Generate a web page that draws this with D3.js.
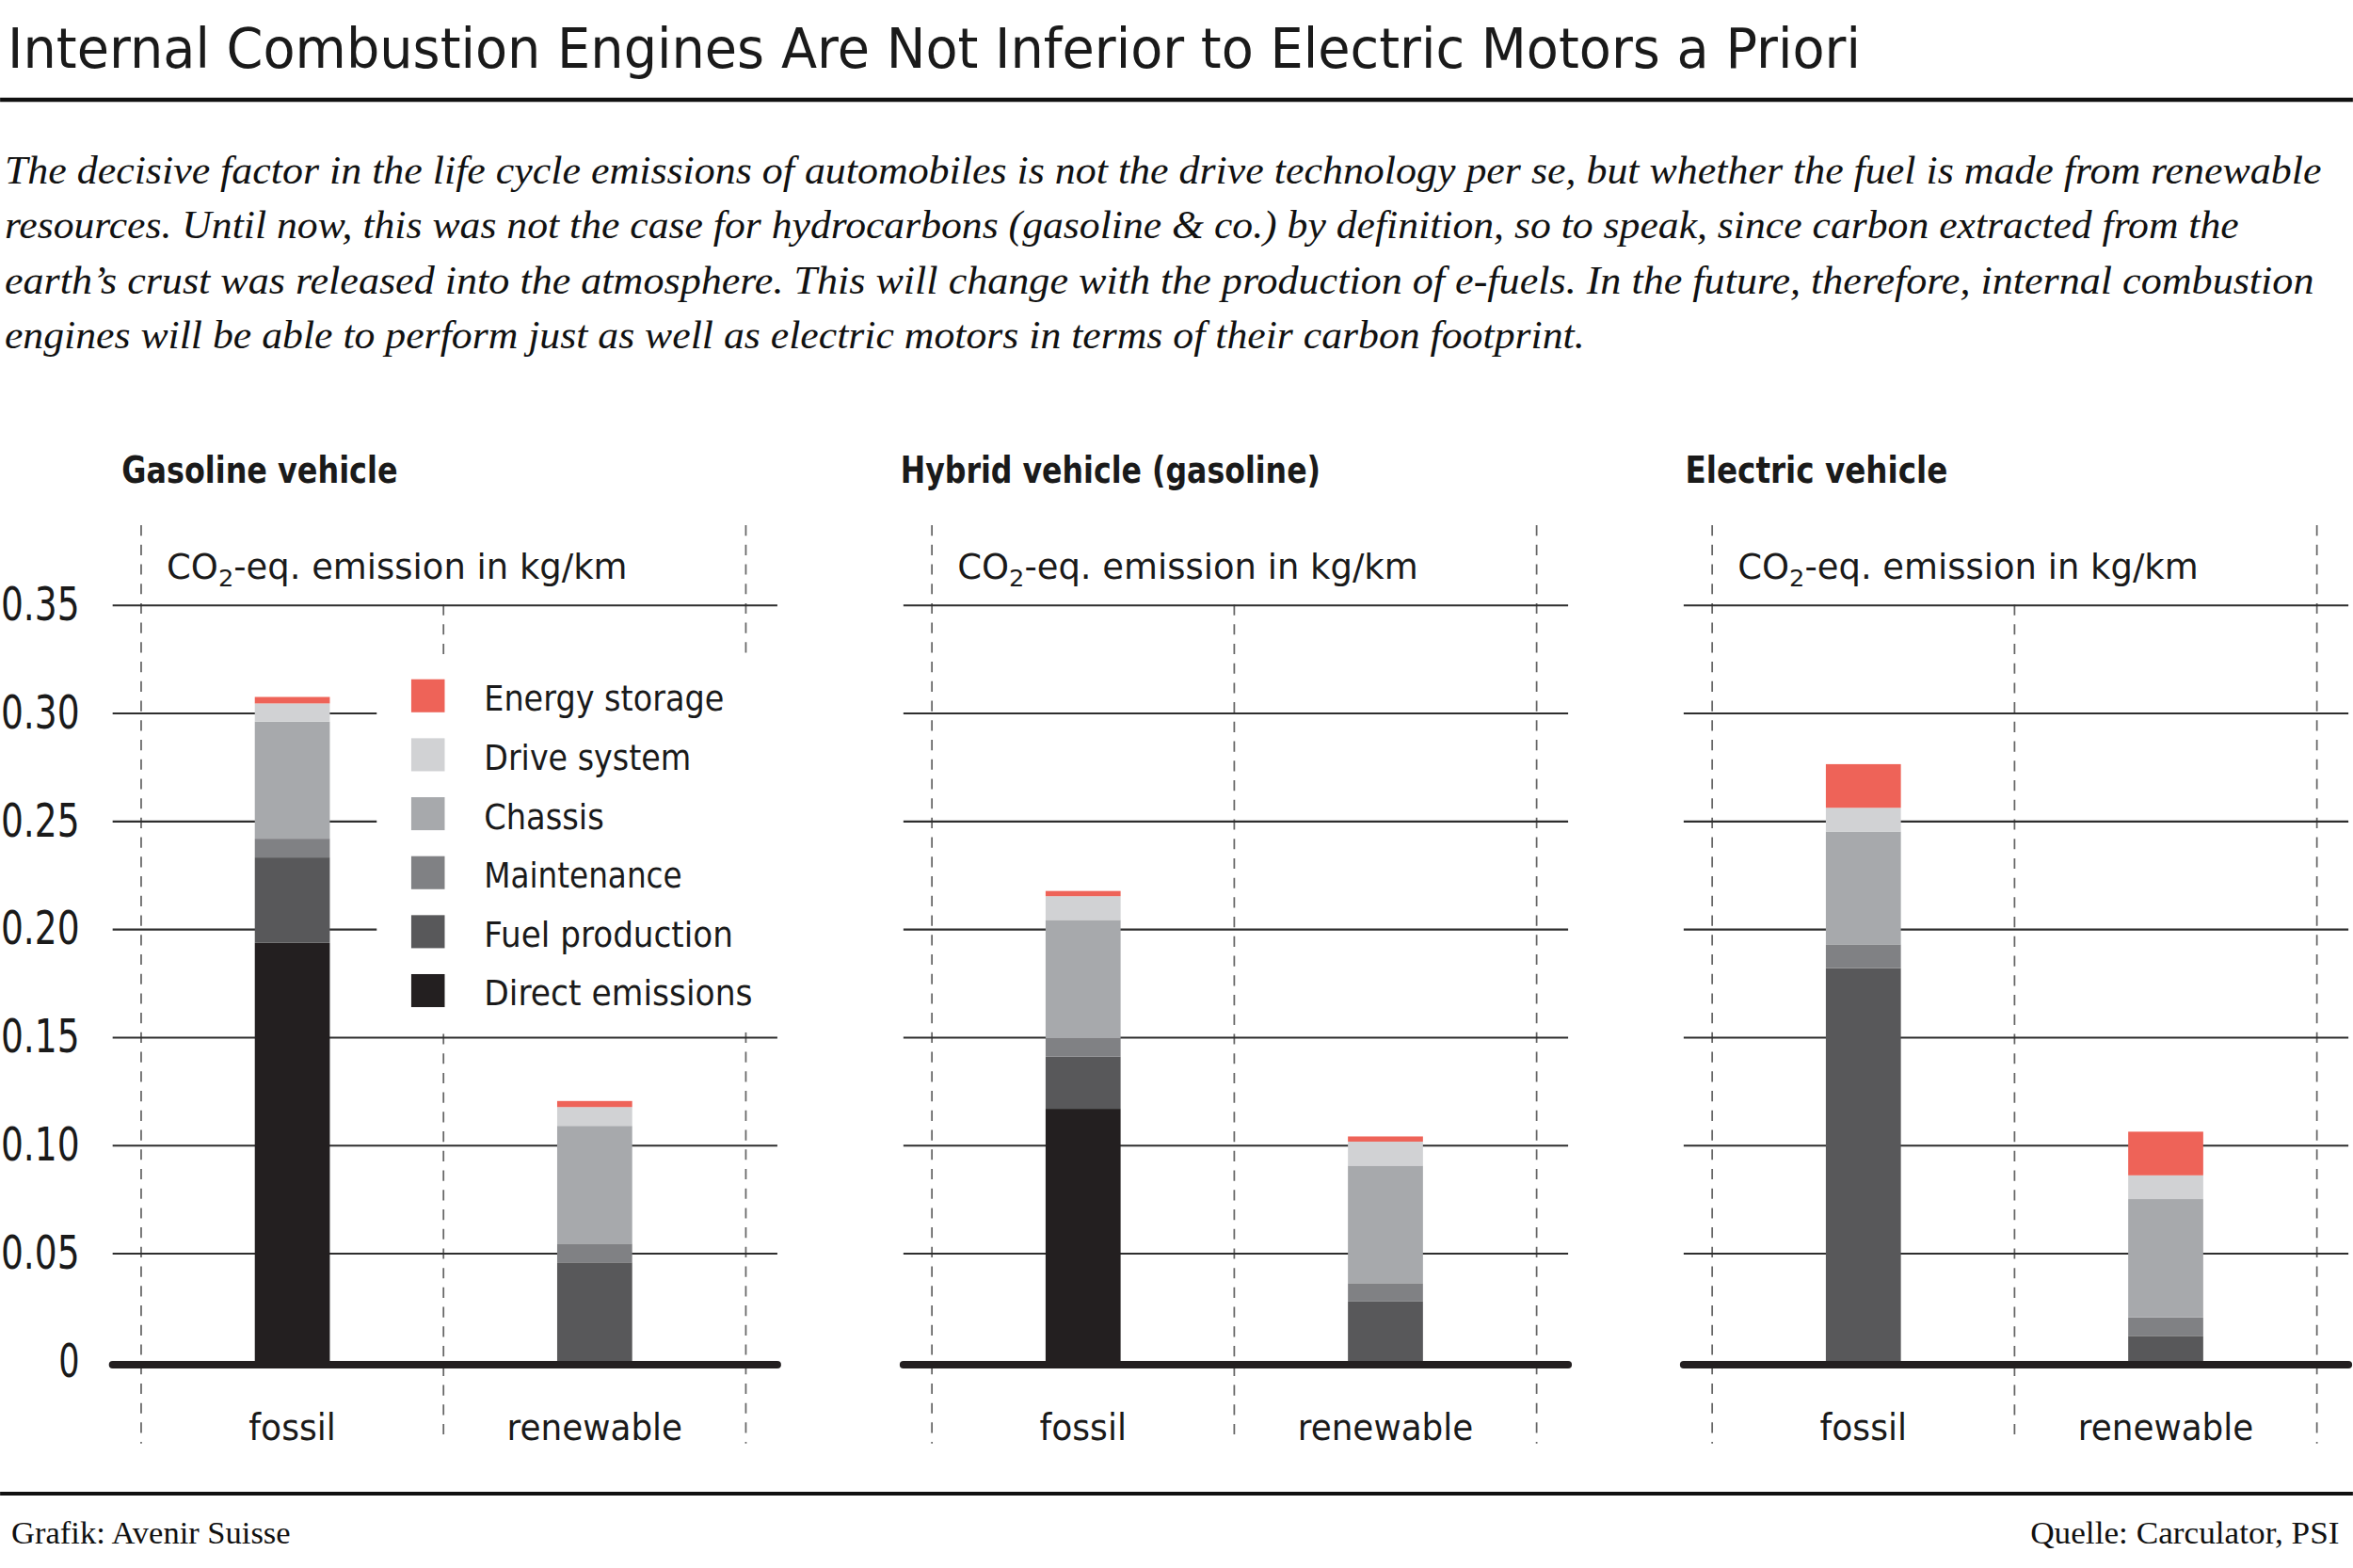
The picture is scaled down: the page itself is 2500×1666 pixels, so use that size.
<!DOCTYPE html>
<html>
<head>
<meta charset="utf-8">
<script src="https://cdn.jsdelivr.net/npm/d3@7"></script>
<style>
  html, body { margin: 0; padding: 0; background: #fff; }
</style>
</head>
<body>
<div id="chart"></div>
<script>
// ---- data ----
const vehicles = ["Gasoline vehicle", "Hybrid vehicle (gasoline)", "Electric vehicle"];
const fuels = ["fossil", "renewable"];
const components = ["Direct emissions", "Fuel production", "Maintenance", "Chassis", "Drive system", "Energy storage"];

// kg CO2-eq per km, one pair [fossil, renewable] per vehicle
const directEmissions = [[0.1935, 0], [0.1167, 0], [0, 0]];
const fuelProduction  = [[0.0395, 0.0456], [0.0241, 0.0275], [0.1818, 0.0116]];
const maintenance     = [[0.0087, 0.0087], [0.0086, 0.0085], [0.0110, 0.0086]];
const chassis         = [[0.0542, 0.0545], [0.0547, 0.0544], [0.0522, 0.0547]];
const driveSystem     = [[0.0084, 0.0087], [0.0110, 0.0111], [0.0110, 0.0110]];
const energyStorage   = [[0.0030, 0.0028], [0.0024, 0.0024], [0.0202, 0.0202]];

const yTicks = [0, 0.05, 0.10, 0.15, 0.20, 0.25, 0.30, 0.35];

const title = "Internal Combustion Engines Are Not Inferior to Electric Motors a Priori";
const introLines = [
  "The decisive factor in the life cycle emissions of automobiles is not the drive technology per se, but whether the fuel is made from renewable",
  "resources. Until now, this was not the case for hydrocarbons (gasoline & co.) by definition, so to speak, since carbon extracted from the",
  "earth\u2019s crust was released into the atmosphere. This will change with the production of e-fuels. In the future, therefore, internal combustion",
  "engines will be able to perform just as well as electric motors in terms of their carbon footprint."
];
const credit = "Grafik: Avenir Suisse";
const source = "Quelle: Carculator, PSI";

// ---- style / layout ----
const colors = ["#231f20", "#58585a", "#808184", "#a7a9ac", "#d1d2d4", "#ee6358"];
const sans = "'DejaVu Sans', sans-serif";
const serif = "'Liberation Serif', 'DejaVu Serif', serif";
const ink = "#1a1a1a";

const W = 1568, H = 1045;
const panelX = [75, 602, 1122];
const panelW = 443;
const titleDx = [6, -2, 1];
const titleW = [184, 280, 175];
const introW = [1544, 1489, 1539, 1053];
const legendW = [160, 138, 80, 132, 166, 179];   // top to bottom
const catW = { fossil: 58, renewable: 117 };

function fit(sel, w) {
  sel.attr("textLength", w).attr("lengthAdjust", "spacingAndGlyphs");
}

const svg = d3.select("#chart").append("svg")
  .attr("width", 2500)
  .attr("height", 1666)
  .attr("viewBox", `0 0 ${W} ${H}`);

svg.append("rect").attr("width", W).attr("height", H).attr("fill", "#fff");

// header
svg.append("text")
  .attr("x", 5).attr("y", 45.3)
  .attr("font-family", sans).attr("font-size", 36.5).attr("fill", ink)
  .text(title)
  .call(fit, 1235);

svg.append("line")
  .attr("x1", 0).attr("x2", W).attr("y1", 66.5).attr("y2", 66.5)
  .attr("stroke", "#111").attr("stroke-width", 2.8);

svg.append("g").selectAll("text")
  .data(introLines)
  .join("text")
  .attr("x", 3)
  .attr("y", (d, i) => 122.3 + i * 36.6)
  .attr("font-family", serif).attr("font-style", "italic")
  .attr("font-size", 27).attr("fill", "#111")
  .text(d => d)
  .each(function (d, i) { d3.select(this).call(fit, introW[i]); });

// scales
const y = d3.scaleLinear().domain([0, 0.35]).range([907, 403]);
const x = d3.scaleBand().domain(fuels).range([19, 422]);
const barW = 50;

const stack = d3.stack().keys(components);

vehicles.forEach((vehicle, vi) => {
  const g = svg.append("g").attr("transform", `translate(${panelX[vi]},0)`);

  // panel title
  g.append("text")
    .attr("x", titleDx[vi]).attr("y", 322)
    .attr("font-family", sans).attr("font-weight", "bold")
    .attr("font-size", 25).attr("fill", ink)
    .text(vehicle)
    .call(fit, titleW[vi]);

  // dashed separators
  const seps = [x.range()[0], x("renewable"), x.range()[1]];
  g.append("g").selectAll("line")
    .data(seps)
    .join("line")
    .attr("x1", d => d).attr("x2", d => d)
    .attr("y1", (d, i) => i === 1 ? y(0.35) : 350)
    .attr("y2", 962)
    .attr("stroke", "#666").attr("stroke-width", 1.1)
    .attr("stroke-dasharray", "7,6");

  // gridlines
  g.append("g")
    .call(d3.axisRight(y).tickValues(yTicks.slice(1)).tickSize(panelW).tickFormat(""))
    .call(a => a.select(".domain").remove())
    .selectAll("line")
    .attr("stroke", "#2e2e2e").attr("stroke-width", 1.3);

  // unit label
  const unit = g.append("text")
    .attr("x", 36).attr("y", 386)
    .attr("font-family", sans).attr("font-size", 23).attr("fill", ink);
  unit.append("tspan").text("CO");
  unit.append("tspan").attr("dy", 5).attr("font-size", 16).text("2");
  unit.append("tspan").attr("dy", -5).text("-eq. emission in kg/km");
  unit.call(fit, 307);

  // legend (first panel only)
  if (vi === 0) {
    svg.append("rect")
      .attr("x", 251).attr("y", 439).attr("width", 272).attr("height", 249)
      .attr("fill", "#fff");
    const items = components.slice().reverse();
    const lg = svg.append("g").selectAll("g")
      .data(items)
      .join("g")
      .attr("transform", (d, i) => `translate(274,${452.7 + i * 39.3})`);
    lg.append("rect")
      .attr("width", 22.3).attr("height", 22)
      .attr("fill", d => colors[components.indexOf(d)]);
    lg.append("text")
      .attr("x", 48.5).attr("y", 21)
      .attr("font-family", sans).attr("font-size", 23).attr("fill", ink)
      .text(d => d)
      .each(function (d, i) { d3.select(this).call(fit, legendW[i]); });
  }

  // stacked bars
  const rows = fuels.map((fuel, fi) => ({
    fuel,
    "Direct emissions": directEmissions[vi][fi],
    "Fuel production": fuelProduction[vi][fi],
    "Maintenance": maintenance[vi][fi],
    "Chassis": chassis[vi][fi],
    "Drive system": driveSystem[vi][fi],
    "Energy storage": energyStorage[vi][fi]
  }));

  g.append("g").selectAll("g")
    .data(stack(rows))
    .join("g")
    .attr("fill", (d, i) => colors[i])
    .selectAll("rect")
    .data(d => d)
    .join("rect")
    .attr("x", d => x(d.data.fuel) + x.bandwidth() / 2 - barW / 2)
    .attr("width", barW)
    .attr("y", d => y(d[1]))
    .attr("height", d => y(d[0]) - y(d[1]));

  // baseline
  g.append("line")
    .attr("x1", 0).attr("x2", panelW)
    .attr("y1", y(0) + 2.5).attr("y2", y(0) + 2.5)
    .attr("stroke", "#231f20").attr("stroke-width", 5)
    .attr("stroke-linecap", "round");

  // category labels
  g.append("g").selectAll("text")
    .data(fuels)
    .join("text")
    .attr("x", d => x(d) + x.bandwidth() / 2)
    .attr("y", 960)
    .attr("text-anchor", "middle")
    .attr("font-family", sans).attr("font-size", 25).attr("fill", ink)
    .text(d => d)
    .each(function (d) { d3.select(this).call(fit, catW[d]); });
});

// y axis labels (left panel)
svg.append("g")
  .attr("transform", "translate(53,0)")
  .call(d3.axisLeft(y).tickValues(yTicks).tickSize(0).tickPadding(0)
    .tickFormat(d => d === 0 ? "0" : d3.format(".2f")(d)))
  .call(a => a.select(".domain").remove())
  .selectAll("text")
  .attr("font-family", sans).attr("font-size", 31).attr("fill", ink)
  .each(function (d) { d3.select(this).call(fit, d === 0 ? 14 : 52.5); });

// footer
svg.append("line")
  .attr("x1", 0).attr("x2", W).attr("y1", 995.5).attr("y2", 995.5)
  .attr("stroke", "#111").attr("stroke-width", 2.5);

svg.append("text")
  .attr("x", 7.5).attr("y", 1029)
  .attr("font-family", serif).attr("font-size", 21).attr("fill", "#111")
  .text(credit)
  .call(fit, 186);

svg.append("text")
  .attr("x", 1559).attr("y", 1029)
  .attr("text-anchor", "end")
  .attr("font-family", serif).attr("font-size", 21).attr("fill", "#111")
  .text(source)
  .call(fit, 206);
</script>
</body>
</html>
